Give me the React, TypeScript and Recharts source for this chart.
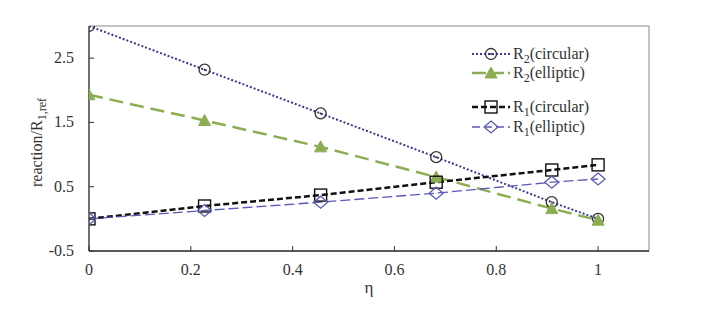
import React from 'react';
import { LineChart, Line, XAxis, YAxis, ReferenceLine } from 'recharts';

const etaValues = [0, 0.227, 0.455, 0.682, 0.909, 1];
const r2Circular = [3.0, 2.32, 1.64, 0.96, 0.26, 0.0];
const r2Elliptic = [1.93, 1.53, 1.12, 0.65, 0.16, -0.02];
const r1Circular = [0.0, 0.2, 0.37, 0.57, 0.76, 0.84];
const r1Elliptic = [0.0, 0.13, 0.26, 0.4, 0.57, 0.62];
const xTicks = [0, 0.2, 0.4, 0.6, 0.8, 1];
const yTicks = [-0.5, 0.5, 1.5, 2.5];

const data = etaValues.map((x, i) => ({
  x,
  r2c: r2Circular[i],
  r2e: r2Elliptic[i],
  r1c: r1Circular[i],
  r1e: r1Elliptic[i],
}));

const FONT = "'Liberation Serif', 'DejaVu Serif', serif";
const TXT = '#333';
const fs = (size: number) => ({ fontFamily: FONT, fontSize: size });

const C_R2C = '#3a3a96';
const C_R2E = '#8cad52';
const C_R1C = '#111111';
const C_R1E = '#5a5ab8';

const circleMark = (cx: number, cy: number, key?: any) => (
  <g key={key}>
    <circle cx={cx} cy={cy} r={5.5} fill="none" stroke="#333" strokeWidth={1.3} />
    <circle cx={cx} cy={cy} r={1} fill="#333" />
  </g>
);
const triMark = (cx: number, cy: number, key?: any) => (
  <polygon key={key} points={`${cx},${cy - 6} ${cx - 6},${cy + 5} ${cx + 6},${cy + 5}`} fill={C_R2E} stroke={C_R2E} />
);
const sqMark = (cx: number, cy: number, key?: any) => (
  <rect key={key} x={cx - 6} y={cy - 6} width={12} height={12} fill="none" stroke="#111" strokeWidth={1.4} />
);
const diaMark = (cx: number, cy: number, key?: any) => (
  <polygon key={key} points={`${cx},${cy - 6} ${cx + 7},${cy} ${cx},${cy + 6} ${cx - 7},${cy}`} fill="none" stroke={C_R1E} strokeWidth={1.3} />
);

const mkDot = (fn: (cx: number, cy: number, key?: any) => any) => (p: any) => fn(p.cx, p.cy, p.key ?? `${p.index}`);

const XTick = (p: any) => {
  const { x, y, payload } = p;
  return (
    <g>
      <line x1={x} y1={y} x2={x} y2={y - 5} stroke="#333" strokeWidth={1} />
      <text x={x} y={y + 24} textAnchor="middle" style={fs(16)} fill={TXT}>{String(payload.value)}</text>
    </g>
  );
};

const YTick = (p: any) => {
  const { x, y, payload } = p;
  return (
    <g>
      <line x1={x} y1={y} x2={x + 5} y2={y} stroke="#333" strokeWidth={1} />
      <text x={x - 15} y={y + 5} textAnchor="end" style={fs(16)} fill={TXT}>{String(payload.value)}</text>
    </g>
  );
};

const YLabel = (p: any) => {
  const vb = p.viewBox;
  const cx = vb.x + 13;
  const cy = vb.y + vb.height / 2 + 4;
  return (
    <text x={cx} y={cy} transform={`rotate(-90 ${cx} ${cy})`} textAnchor="middle" style={fs(16)} fill={TXT}>
      reaction/R<tspan style={fs(12)} dy={4}>1,ref</tspan>
    </text>
  );
};

const XLabel = (p: any) => {
  const vb = p.viewBox;
  const cx = vb.x + vb.width / 2;
  return (
    <text x={cx} y={vb.y + 42} textAnchor="middle" style={fs(17)} fill={TXT}>η</text>
  );
};

const legendItems = [
  { main: '2', rest: '(circular)', color: C_R2C, dash: '2 2', width: 2, mark: circleMark, y: 54 },
  { main: '2', rest: '(elliptic)', color: C_R2E, dash: '14 4', width: 2.5, mark: triMark, y: 73 },
  { main: '1', rest: '(circular)', color: C_R1C, dash: '6 3', width: 2.5, mark: sqMark, y: 107 },
  { main: '1', rest: '(elliptic)', color: C_R1E, dash: '8 4', width: 1.3, mark: diaMark, y: 127 },
];

const LegendBox = () => (
  <svg width={200} height={110} style={{ position: 'absolute', left: 440, top: 40, display: 'block' }}>
    {legendItems.map((it, i) => {
      const y = it.y - 40;
      return (
        <g key={i}>
          <line x1={32} y1={y} x2={70} y2={y} stroke={it.color} strokeWidth={it.width} strokeDasharray={it.dash} />
          {it.mark(51, y)}
          <text x={73} y={y + 5} style={fs(16)} fill={TXT}>
            R<tspan style={fs(12)} dy={4}>{it.main}</tspan><tspan dy={-4}>{it.rest}</tspan>
          </text>
        </g>
      );
    })}
  </svg>
);

export default function App() {
  return (
    <div style={{ position: 'absolute', left: 0, top: 0, width: 710, height: 318, background: '#fff', fontFamily: FONT }}>
      <LineChart width={710} height={318} data={data} margin={{ top: 26, right: 61, left: 29, bottom: 37 }}>
        <XAxis
          type="number"
          dataKey="x"
          domain={[0, 1.1]}
          ticks={xTicks}
          tick={<XTick />}
          tickLine={false}
          tickSize={0}
          tickMargin={0}
          height={30}
          axisLine={{ stroke: '#222', strokeWidth: 1.3 }}
          allowDataOverflow
          label={<XLabel />}
        />
        <YAxis
          type="number"
          domain={[-0.5, 3]}
          ticks={yTicks}
          tick={<YTick />}
          tickLine={false}
          tickSize={0}
          tickMargin={0}
          width={60}
          axisLine={{ stroke: '#222', strokeWidth: 1.3 }}
          allowDataOverflow
          label={<YLabel />}
        />
        <ReferenceLine y={3} stroke="#888" strokeWidth={1} ifOverflow="visible" />
        <ReferenceLine x={1.1} stroke="#888" strokeWidth={1} ifOverflow="visible" />
        <Line dataKey="r2c" stroke={C_R2C} strokeWidth={2} strokeDasharray="2 2" dot={mkDot(circleMark)} isAnimationActive={false} />
        <Line dataKey="r2e" stroke={C_R2E} strokeWidth={2.5} strokeDasharray="14 7" dot={mkDot(triMark)} isAnimationActive={false} />
        <Line dataKey="r1c" stroke={C_R1C} strokeWidth={2.5} strokeDasharray="6 3" dot={mkDot(sqMark)} isAnimationActive={false} />
        <Line dataKey="r1e" stroke={C_R1E} strokeWidth={1.3} strokeDasharray="10 4" dot={mkDot(diaMark)} isAnimationActive={false} />
      </LineChart>
      <LegendBox />
    </div>
  );
}
